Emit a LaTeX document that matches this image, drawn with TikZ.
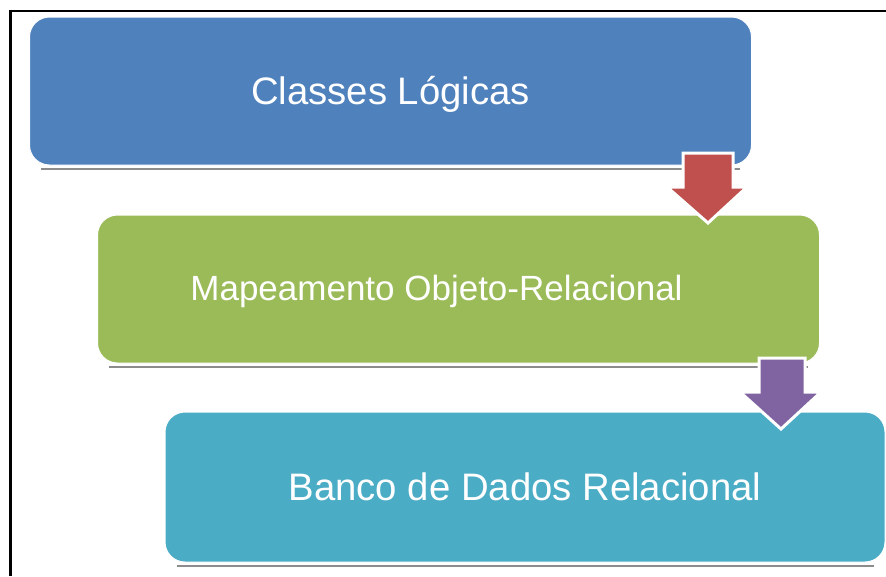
\documentclass[tikz,border=0pt]{standalone}
\usepackage{fontspec}
\setmainfont{Liberation Sans}
\usetikzlibrary{positioning, calc}
\definecolor{oblue}{HTML}{4F81BD}
\definecolor{ored}{HTML}{C0504D}
\definecolor{ogreen}{HTML}{9BBB59}
\definecolor{opurple}{HTML}{8064A2}
\definecolor{oaqua}{HTML}{4BACC6}
\tikzset{
  stepbox/.style={draw=white, line width=1pt, rounded corners=20pt,
                  minimum width=722pt, minimum height=148pt, inner sep=0pt,
                  text=white, text height=27.4pt, text depth=0pt,
                  font=\fontsize{38.3}{46}\selectfont},
  steplabel/.style={text=white, inner sep=0pt, text height=25pt, text depth=0pt,
                    font=\fontsize{35}{42}\selectfont},
  shadowline/.style={draw=black!45, line width=1.5pt},
  frameline/.style={line width=2.5pt, black},
  downarr/.style={draw=white, line width=3pt, line join=miter},
}

\begin{document}
\begin{tikzpicture}[x=1pt, y=-1pt]
    \useasboundingbox (0,0) rectangle (886,576);
    \fill[white] (0,0) rectangle (886,576);

    \draw[frameline] (10.5,576) -- (10.5,11) -- (886,11);

    \node[stepbox, fill=oblue] (cls) at (390.5,91) {Classes Lógicas};
    \node[stepbox, fill=ogreen] (orm) at (458.5,289) {};
    \node[steplabel] (ormtxt) at (436.5,287.5) {Mapeamento Objeto-Relacional};
    \node[stepbox, fill=oaqua, minimum width=720pt, minimum height=150pt] (bd) at (525,487) {Banco de Dados Relacional};

    \draw[shadowline] ([xshift=12pt,yshift=-3.5pt]cls.south west) -- ([xshift=-12pt,yshift=-3.5pt]cls.south east);
    \draw[shadowline] ([xshift=12pt,yshift=-3.5pt]orm.south west) -- ([xshift=-12pt,yshift=-3.5pt]orm.south east);
    \draw[shadowline] ([xshift=12pt,yshift=-3.5pt]bd.south west) -- ([xshift=-12pt,yshift=-3.5pt]bd.south east);

    \filldraw[downarr, fill=ored] (683,153) -- ++(50,0) -- ++(0,34) -- ++(14,0)
        -- (708,223) -- (667,187) -- ++(16,0) -- cycle;
    \filldraw[downarr, fill=opurple] (759,358) -- ++(46,0) -- ++(0,34) -- ++(16,0)
        -- (781,429) -- (740,392) -- ++(19,0) -- cycle;
  \end{tikzpicture}
\end{document}
